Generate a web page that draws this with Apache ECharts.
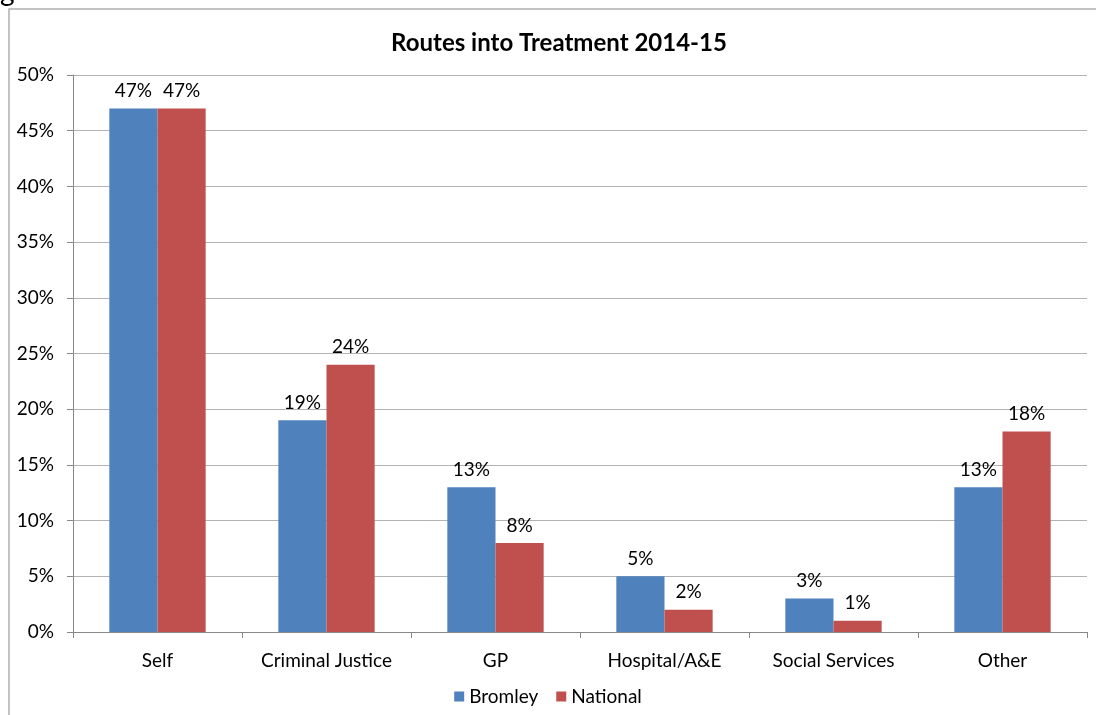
<!DOCTYPE html>
<html>
<head>
<meta charset="utf-8">
<script src="https://cdn.jsdelivr.net/npm/echarts@6/dist/echarts.min.js"></script>
<style>
  html, body { margin: 0; padding: 0; background: #fff; }
  #chart { width: 1096px; height: 715px; }
</style>
</head>
<body>
<div id="chart"></div>
<script>
// Referral routes into treatment, share of new presentations
const categories = ['Self', 'Criminal Justice', 'GP', 'Hospital/A&E', 'Social Services', 'Other'];
const bromley = [47, 19, 13, 5, 3, 13];
const national = [47, 24, 8, 2, 1, 18];
const yTicks = [0, 5, 10, 15, 20, 25, 30, 35, 40, 45, 50];

const FONT = 'Lato, "Open Sans", sans-serif';
const chart = echarts.init(document.getElementById('chart'), null, { renderer: 'canvas' });

const labelOpt = {
  show: true,
  position: 'top',
  distance: 8,
  color: '#000',
  fontSize: 19,
  fontFamily: FONT,
  formatter: p => p.value + '%'
};

chart.setOption({
  animation: false,
  backgroundColor: '#fff',
  title: {
    text: 'Routes into Treatment 2014-15',
    left: 554,
    textAlign: 'center',
    top: 26,
    textStyle: { fontFamily: FONT, fontSize: 24, fontWeight: 'bold', color: '#000' }
  },
  graphic: [
    {
      type: 'rect',
      shape: { x: 9, y: 9, width: 1200, height: 800 },
      style: { fill: 'none', stroke: '#b0b0b0', lineWidth: 1.5 },
      silent: true
    },
    {
      type: 'text',
      x: 0,
      y: -22,
      style: { text: 'g', font: '28px Lato, sans-serif', fill: '#000' },
      silent: true
    }
  ],
  legend: {
    bottom: 4,
    left: 'center',
    itemWidth: 10,
    itemHeight: 10,
    itemGap: 18,
    icon: 'rect',
    textStyle: { fontFamily: FONT, fontSize: 19, color: '#000' },
    data: ['Bromley', 'National']
  },
  grid: { left: 73, right: 9, top: 75, bottom: 83 },
  xAxis: {
    type: 'category',
    data: categories,
    axisLine: { lineStyle: { color: '#888', width: 1 } },
    axisTick: { show: true, interval: 0, alignWithLabel: false, length: 6, lineStyle: { color: '#888' } },
    axisLabel: { interval: 0, color: '#000', fontSize: 19, fontFamily: FONT, margin: 19 }
  },
  yAxis: {
    type: 'value',
    min: 0,
    max: 50,
    interval: 5,
    axisLine: { show: true, lineStyle: { color: '#888', width: 1 } },
    axisTick: { show: true, inside: false, length: 6, lineStyle: { color: '#888' } },
    splitLine: { lineStyle: { color: '#b3b3b3', width: 1 } },
    axisLabel: {
      color: '#000', fontSize: 19, fontFamily: FONT, margin: 19,
      formatter: v => (yTicks.includes(v) ? v + '%' : '')
    }
  },
  series: [
    {
      name: 'Bromley',
      type: 'bar',
      data: bromley,
      barGap: '0%',
      barCategoryGap: '43%',
      itemStyle: { color: '#4f81bd' },
      label: labelOpt
    },
    {
      name: 'National',
      type: 'bar',
      data: national,
      itemStyle: { color: '#c0504d' },
      label: labelOpt
    }
  ]
});
</script>
</body>
</html>
